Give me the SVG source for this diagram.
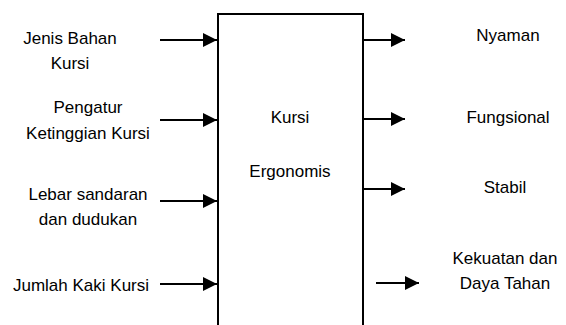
<svg xmlns="http://www.w3.org/2000/svg" width="566" height="325" viewBox="0 0 566 325">
<style>
text{font-family:"Liberation Sans",Arial,sans-serif;font-size:17px;fill:#000;text-anchor:middle}
.c{stroke:#000;stroke-width:1.8;fill:none}
.b{stroke:#000;stroke-width:2;fill:#fff}
</style>
<defs>
<marker id="ah" markerUnits="userSpaceOnUse" markerWidth="15" markerHeight="14" refX="14" refY="7" orient="auto">
<path d="M0,0 L14,7 L0,14 Z" fill="#000"/>
</marker>
</defs>
<g id="box">
<path class="b" d="M218,330 L218,14 L363,14 L363,330"/>
<text x="290" y="123">Kursi</text>
<text x="290" y="177">Ergonomis</text>
</g>
<g id="in1"><text x="70" y="44">Jenis Bahan</text><text x="70" y="69">Kursi</text></g>
<g id="in2"><text x="88" y="113">Pengatur</text><text x="88" y="139">Ketinggian Kursi</text></g>
<g id="in3"><text x="88" y="200">Lebar sandaran</text><text x="88" y="225">dan dudukan</text></g>
<g id="in4"><text x="81" y="291">Jumlah Kaki Kursi</text></g>
<g id="out1"><text x="508" y="41">Nyaman</text></g>
<g id="out2"><text x="508" y="123">Fungsional</text></g>
<g id="out3"><text x="505" y="193">Stabil</text></g>
<g id="out4"><text x="505" y="264">Kekuatan dan</text><text x="505" y="289">Daya Tahan</text></g>
<g id="connectors">
<line class="c" x1="160" y1="40" x2="217" y2="40" marker-end="url(#ah)"/>
<line class="c" x1="160" y1="120" x2="217" y2="120" marker-end="url(#ah)"/>
<line class="c" x1="160" y1="201" x2="217" y2="201" marker-end="url(#ah)"/>
<line class="c" x1="160" y1="284" x2="217" y2="284" marker-end="url(#ah)"/>
<line class="c" x1="363" y1="40" x2="405" y2="40" marker-end="url(#ah)"/>
<line class="c" x1="363" y1="119" x2="405" y2="119" marker-end="url(#ah)"/>
<line class="c" x1="363" y1="189" x2="405" y2="189" marker-end="url(#ah)"/>
<line class="c" x1="376" y1="283" x2="419" y2="283" marker-end="url(#ah)"/>
</g>
</svg>
